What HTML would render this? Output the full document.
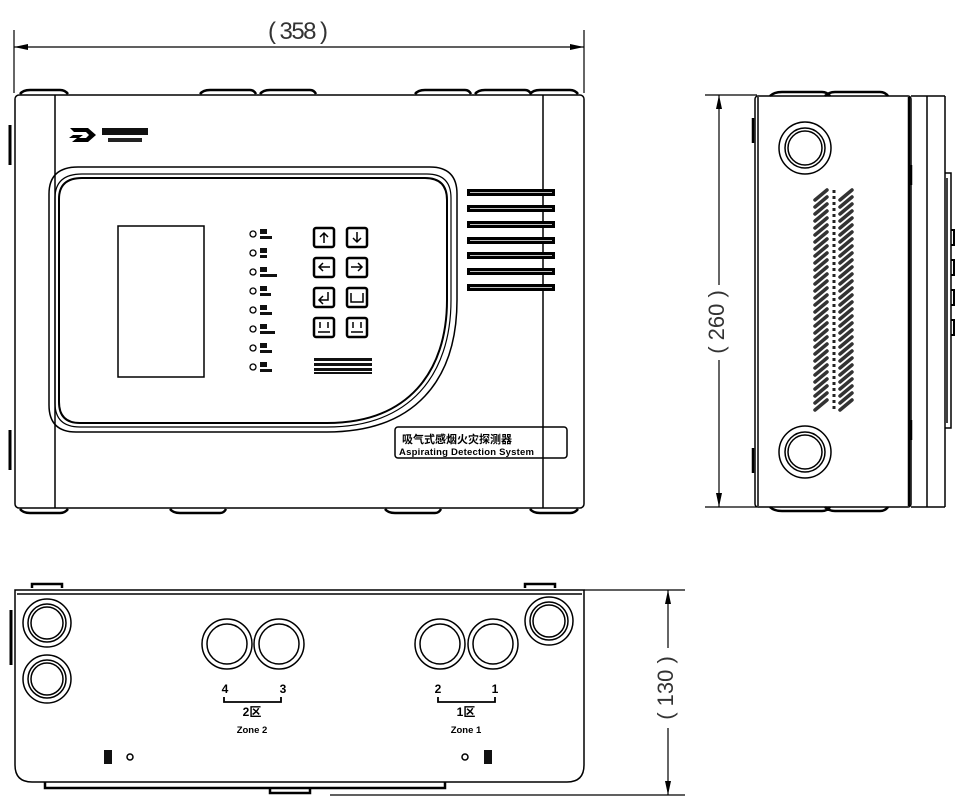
<!DOCTYPE html>
<html><head><meta charset="utf-8"><style>
html,body{margin:0;padding:0;background:#fff;}
svg{display:block;}
text{font-family:"Liberation Sans","Noto Sans CJK SC",sans-serif;}
</style></head><body>
<svg width="969" height="804" viewBox="0 0 969 804" xmlns="http://www.w3.org/2000/svg">
<defs>
<marker id="ar" markerWidth="14" markerHeight="6" refX="14" refY="3" orient="auto-start-reverse" markerUnits="userSpaceOnUse"><path d="M0,0 L14,3 L0,6 Z" fill="#000"/></marker>
</defs>
<g stroke="#000" fill="none" stroke-width="1.2">
<line x1="14" y1="30" x2="14" y2="93"/><line x1="584" y1="30" x2="584" y2="93"/>
<line x1="14" y1="47" x2="584" y2="47" marker-start="url(#ar)" marker-end="url(#ar)"/>
</g>
<rect x="262" y="14" width="72" height="32" fill="#fff"/>
<text x="298" y="39" font-size="24" text-anchor="middle" fill="#333" textLength="60" style="font-weight:300">( 358 )</text>

<!-- FRONT VIEW -->
<g stroke="#000" fill="none" stroke-width="1.5">
<rect x="15" y="95" width="569" height="413" rx="4"/>
<line x1="55" y1="95" x2="55" y2="508"/><line x1="543" y1="95" x2="543" y2="508"/>
<path d="M10,125 V165 M10,430 V470" stroke-width="3"/>
<path d="M20,94 q3,-4 10,-4 h30 q5,0 8,4 M200,94 q3,-4 10,-4 h40 q4,0 6,4 M260,94 q3,-4 10,-4 h40 q4,0 6,4 M415,94 q3,-4 10,-4 h40 q4,0 6,4 M475,94 q3,-4 10,-4 h40 q4,0 6,4 M530,94 q3,-4 10,-4 h30 q5,0 8,4" stroke-width="2.5"/>
<path d="M20,509 q3,4 10,4 h30 q5,0 8,-4 M170,509 q3,4 10,4 h40 q4,0 6,-4 M385,509 q3,4 10,4 h40 q4,0 6,-4 M530,509 q3,4 10,4 h30 q5,0 8,-4" stroke-width="2.5"/>
<path d="M78,167 H430 Q457,167 457,194 V300 C457,380 415,432 327,432 H76 Q49,432 49,405 V194 Q49,167 78,167 Z"/>
<path d="M82,174 H427 Q451,174 451,198 V300 C451,375 410,427 327,427 H80 Q55,427 55,403 V198 Q55,174 82,174 Z" stroke-width="1.2"/>
<path d="M82,178 H425 Q447,178 447,200 V300 C447,372 408,423 327,423 H80 Q59,423 59,402 V199 Q59,178 82,178 Z" stroke-width="2"/>
<rect x="118" y="226" width="86" height="151"/>
</g>
<path d="M70,128 h18 l8,7 l-8,7 h-16 l5,-4 h9 l3,-3 l-3,-3 h-12 Z M73,135 h10 l-4,3 h-10Z" fill="#000"/>
<rect x="102" y="128" width="46" height="7" fill="#111"/>
<rect x="108" y="138" width="34" height="4" fill="#222"/>
<g stroke="#000" stroke-width="1.3" fill="none">
<circle cx="253" cy="234" r="3"/><circle cx="253" cy="253" r="3"/><circle cx="253" cy="272" r="3"/><circle cx="253" cy="291" r="3"/><circle cx="253" cy="310" r="3"/><circle cx="253" cy="329" r="3"/><circle cx="253" cy="348" r="3"/><circle cx="253" cy="367" r="3"/>
</g>
<g fill="#111">
<rect x="260" y="229" width="7" height="5"/><rect x="260" y="236" width="12" height="3"/>
<rect x="260" y="248" width="7" height="5"/><rect x="260" y="255" width="7" height="3"/>
<rect x="260" y="267" width="7" height="5"/><rect x="260" y="274" width="17" height="3"/>
<rect x="260" y="286" width="7" height="5"/><rect x="260" y="293" width="11" height="3"/>
<rect x="260" y="305" width="7" height="5"/><rect x="260" y="312" width="12" height="3"/>
<rect x="260" y="324" width="7" height="5"/><rect x="260" y="331" width="15" height="3"/>
<rect x="260" y="343" width="7" height="5"/><rect x="260" y="350" width="12" height="3"/>
<rect x="260" y="362" width="7" height="5"/><rect x="260" y="369" width="12" height="3"/>
</g>
<g stroke="#000" stroke-width="2.5" fill="none">
<rect x="314" y="228" width="20" height="19" rx="2"/><rect x="347" y="228" width="20" height="19" rx="2"/>
<rect x="314" y="258" width="20" height="19" rx="2"/><rect x="347" y="258" width="20" height="19" rx="2"/>
<rect x="314" y="288" width="20" height="19" rx="2"/><rect x="347" y="288" width="20" height="19" rx="2"/>
<rect x="314" y="318" width="20" height="19" rx="2"/><rect x="347" y="318" width="20" height="19" rx="2"/>
</g>
<g stroke="#000" stroke-width="1.5" fill="none">
<path d="M324,243 V233 M320,237 l4,-4 l4,4"/><path d="M357,232 V242 M353,238 l4,4 l4,-4"/>
<path d="M330,267 H319 M323,263 l-4,4 l4,4"/><path d="M351,267 H362 M358,263 l4,4 l-4,4"/>
<path d="M328,292 V300 H319 M323,296 l-4,4 l4,4"/><path d="M351,293 V302 H363 V293"/>
<path d="M318,332 H330 M320,322 v6 M328,322 v6"/><path d="M351,332 H363 M353,322 v6 M361,322 v6"/>
</g>
<g fill="#111"><rect x="314" y="358" width="58" height="3"/><rect x="314" y="363" width="58" height="3"/><rect x="314" y="368" width="58" height="3"/><rect x="314" y="372" width="58" height="2"/></g>
<g fill="#000">
<rect x="467" y="189" width="88" height="7"/><rect x="467" y="205" width="88" height="7"/><rect x="467" y="221" width="88" height="7"/><rect x="467" y="237" width="88" height="7"/><rect x="467" y="252" width="88" height="7"/><rect x="467" y="268" width="88" height="7"/><rect x="467" y="284" width="88" height="7"/>
</g>
<g stroke="#fff" stroke-width="0.8"><line x1="470" y1="192.5" x2="552" y2="192.5"/><line x1="470" y1="208.5" x2="552" y2="208.5"/><line x1="470" y1="224.5" x2="552" y2="224.5"/><line x1="470" y1="240.5" x2="552" y2="240.5"/><line x1="470" y1="255.5" x2="552" y2="255.5"/><line x1="470" y1="271.5" x2="552" y2="271.5"/><line x1="470" y1="287.5" x2="552" y2="287.5"/></g>
<rect x="395" y="427" width="172" height="31" rx="3" stroke="#000" stroke-width="1.5" fill="none"/>
<text x="402" y="443" font-size="11" font-weight="bold" fill="#000">吸气式感烟火灾探测器</text>
<text x="399" y="455" font-size="9.5" font-weight="bold" fill="#000" textLength="135">Aspirating Detection System</text>

<!-- SIDE VIEW -->
<g stroke="#000" fill="none" stroke-width="1.2">
<line x1="705" y1="95" x2="757" y2="95"/><line x1="705" y1="507" x2="757" y2="507"/>
<line x1="719" y1="95" x2="719" y2="507" marker-start="url(#ar)" marker-end="url(#ar)"/>
</g>
<rect x="706" y="285" width="26" height="75" fill="#fff"/>
<text transform="translate(724,322) rotate(-90)" font-size="22" text-anchor="middle" fill="#333" style="font-weight:300">( 260 )</text>
<g stroke="#000" fill="none" stroke-width="1.5">
<rect x="755" y="96" width="156" height="411" rx="3"/>
<line x1="758" y1="97" x2="758" y2="506"/><line x1="909" y1="97" x2="909" y2="506" stroke-width="2.5"/>
<line x1="927" y1="96" x2="927" y2="507"/><line x1="945" y1="96" x2="945" y2="507"/><line x1="911" y1="96" x2="945" y2="96"/><line x1="911" y1="507" x2="945" y2="507"/>
<path d="M945,173 h6 v255 h-6 M947,178 v245"/>
<path d="M753,118 v25 M753,448 v25 M911,165 v20 M911,420 v20" stroke-width="2.5"/>
<path d="M770,96 q4,-4 12,-4 h40 q5,0 8,4 M825,96 q4,-4 10,-4 h45 q5,0 8,4 M770,507 q4,4 12,4 h40 q5,0 8,-4 M825,507 q4,4 10,4 h45 q5,0 8,-4" stroke-width="2.5"/>
<path d="M951,230 h3 v15 h-3 M951,260 h3 v15 h-3 M951,290 h3 v15 h-3 M951,320 h3 v15 h-3" stroke-width="2"/>
<circle cx="805" cy="148" r="26"/><circle cx="805" cy="148" r="20"/><circle cx="805" cy="148" r="17"/>
<circle cx="805" cy="452" r="26"/><circle cx="805" cy="452" r="20"/><circle cx="805" cy="452" r="17"/>
</g>
<g stroke="#333" stroke-width="3.5" stroke-linecap="round">
<path d="M815,200 l12,-10 M815,207 l12,-10 M815,214 l12,-10 M815,221 l12,-10 M815,228 l12,-10 M815,235 l12,-10 M815,242 l12,-10 M815,249 l12,-10 M815,256 l12,-10 M815,263 l12,-10 M815,270 l12,-10 M815,277 l12,-10 M815,284 l12,-10 M815,291 l12,-10 M815,298 l12,-10 M815,305 l12,-10 M815,312 l12,-10 M815,319 l12,-10 M815,326 l12,-10 M815,333 l12,-10 M815,340 l12,-10 M815,347 l12,-10 M815,354 l12,-10 M815,361 l12,-10 M815,368 l12,-10 M815,375 l12,-10 M815,382 l12,-10 M815,389 l12,-10 M815,396 l12,-10 M815,403 l12,-10 M815,410 l12,-10"/>
<path d="M840,200 l12,-10 M840,207 l12,-10 M840,214 l12,-10 M840,221 l12,-10 M840,228 l12,-10 M840,235 l12,-10 M840,242 l12,-10 M840,249 l12,-10 M840,256 l12,-10 M840,263 l12,-10 M840,270 l12,-10 M840,277 l12,-10 M840,284 l12,-10 M840,291 l12,-10 M840,298 l12,-10 M840,305 l12,-10 M840,312 l12,-10 M840,319 l12,-10 M840,326 l12,-10 M840,333 l12,-10 M840,340 l12,-10 M840,347 l12,-10 M840,354 l12,-10 M840,361 l12,-10 M840,368 l12,-10 M840,375 l12,-10 M840,382 l12,-10 M840,389 l12,-10 M840,396 l12,-10 M840,403 l12,-10 M840,410 l12,-10"/>
</g>
<g stroke="#222" stroke-width="3" stroke-dasharray="3,3"><line x1="834" y1="190" x2="834" y2="412"/></g>

<!-- BOTTOM VIEW -->
<g stroke="#000" fill="none" stroke-width="1.5">
<path d="M15,590 H584 V765 Q584,782 567,782 H32 Q15,782 15,765 Z"/>
<line x1="17" y1="594" x2="582" y2="594"/>
<path d="M45,782 v6 h400 v-6 M32,588 v-4 h30 v4 M525,588 v-4 h30 v4 M270,788 v5 h40 v-5" stroke-width="2.5"/>
<path d="M11,610 v55" stroke-width="3"/>
<circle cx="47" cy="623" r="24"/><circle cx="47" cy="623" r="19"/><circle cx="47" cy="623" r="16"/>
<circle cx="47" cy="679" r="24"/><circle cx="47" cy="679" r="19"/><circle cx="47" cy="679" r="16"/>
<circle cx="549" cy="621" r="24"/><circle cx="549" cy="621" r="19"/><circle cx="549" cy="621" r="16"/>
<circle cx="227" cy="644" r="25"/><circle cx="227" cy="644" r="20"/>
<circle cx="279" cy="644" r="25"/><circle cx="279" cy="644" r="20"/>
<circle cx="440" cy="644" r="25"/><circle cx="440" cy="644" r="20"/>
<circle cx="493" cy="644" r="25"/><circle cx="493" cy="644" r="20"/>
<path d="M224,697 v5 h57 v-5 M438,697 v5 h57 v-5" stroke-width="1.8"/>
<circle cx="130" cy="757" r="3"/><circle cx="465" cy="757" r="3"/>
</g>
<g fill="#111"><rect x="104" y="750" width="8" height="14"/><rect x="484" y="750" width="8" height="14"/></g>
<g fill="#000" font-weight="bold" text-anchor="middle">
<text x="225" y="693" font-size="12">4</text><text x="283" y="693" font-size="12">3</text>
<text x="438" y="693" font-size="12">2</text><text x="495" y="693" font-size="12">1</text>
<text x="252" y="716" font-size="12">2区</text><text x="466" y="716" font-size="12">1区</text>
<text x="252" y="733" font-size="9.5">Zone 2</text><text x="466" y="733" font-size="9.5">Zone 1</text>
</g>
<g stroke="#000" fill="none" stroke-width="1.2">
<line x1="584" y1="590" x2="685" y2="590"/><line x1="330" y1="795" x2="685" y2="795"/>
<line x1="668" y1="590" x2="668" y2="795" marker-start="url(#ar)" marker-end="url(#ar)"/>
</g>
<rect x="655" y="648" width="26" height="80" fill="#fff"/>
<text transform="translate(673,688) rotate(-90)" font-size="22" text-anchor="middle" fill="#333" style="font-weight:300">( 130 )</text>
</svg>
</body></html>
